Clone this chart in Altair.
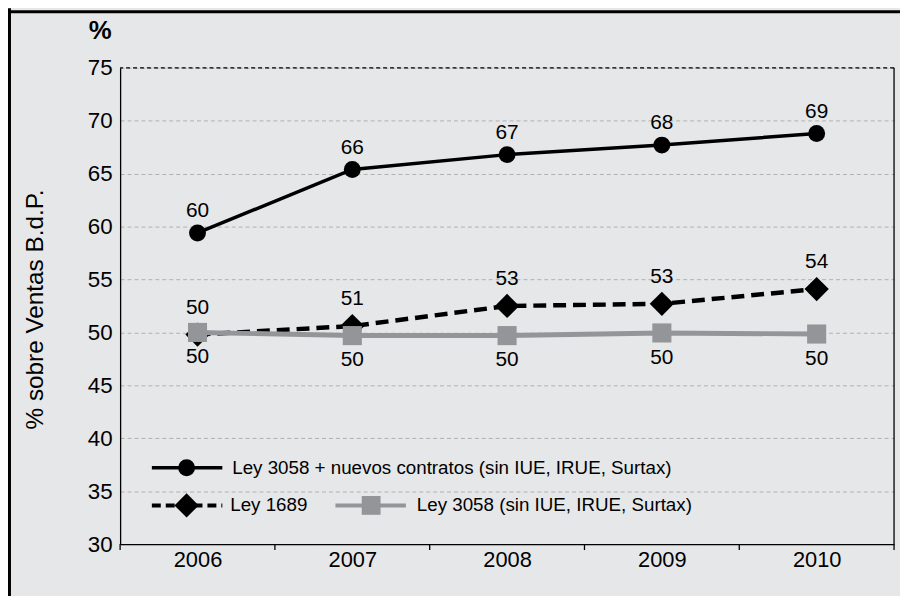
import altair as alt
import pandas as pd

# ---------------- data ----------------
years = [2006, 2007, 2008, 2009, 2010]
series_names = [
    "Ley 3058 + nuevos contratos (sin IUE, IRUE, Surtax)",
    "Ley 1689",
    "Ley 3058 (sin IUE, IRUE, Surtax)",
]
nuevos_vals = [59.4, 65.4, 66.8, 67.7, 68.8]
nuevos_labels = ["60", "66", "67", "68", "69"]
ley1689_vals = [49.8, 50.6, 52.5, 52.7, 54.1]
ley1689_labels = ["50", "51", "53", "53", "54"]
ley3058_vals = [50.0, 49.7, 49.7, 49.95, 49.85]
ley3058_labels = ["50", "50", "50", "50", "50"]
y_ticks = [30, 35, 40, 45, 50, 55, 60, 65, 70, 75]
band_edges = [2005.5, 2006.5, 2007.5, 2008.5, 2009.5, 2010.5]

FONT = "Liberation Sans"
BLACK = "#000000"
GRAY = "#939598"
BG = "#e6e7e8"

W, H = 780, 480

def frame(vals, labels, name):
    return pd.DataFrame({"year": years, "value": vals, "label": labels, "series": name})

df1 = frame(nuevos_vals, nuevos_labels, series_names[0])
df2 = frame(ley1689_vals, ley1689_labels, series_names[1])
df3 = frame(ley3058_vals, ley3058_labels, series_names[2])
df_edges = pd.DataFrame({"edge": band_edges})
df_right = pd.DataFrame({"edge": [band_edges[-1]]})

x_enc = alt.X(
    "year:Q",
    scale=alt.Scale(domain=[band_edges[0], band_edges[-1]], nice=False, zero=False),
    axis=alt.Axis(
        values=years, format="d", title=None, grid=False, ticks=False,
        labelPadding=6, labelFontSize=22, labelColor=BLACK, labelFont=FONT,
        domainColor=BLACK, domainWidth=1.3, labelFlush=False,
    ),
)
y_enc = alt.Y(
    "value:Q",
    scale=alt.Scale(domain=[y_ticks[0], y_ticks[-1]], nice=False, zero=False),
    axis=alt.Axis(
        values=y_ticks, title="% sobre Ventas B.d.P.", titleFontSize=24.5,
        titleFontWeight="normal", titleFont=FONT, titleColor=BLACK,
        titleAngle=270, titleX=-78, titleY=243, titleBaseline="alphabetic",
        titleAlign="center",
        grid=True, gridDash=[4, 3], gridColor="#b0b0b0", gridWidth=1,
        ticks=False, labelPadding=8, labelFontSize=22.5, labelColor=BLACK,
        labelFont=FONT, domainColor=BLACK, domainWidth=1.3,
    ),
)

def xy(df):
    return alt.Chart(df).encode(x=x_enc, y=y_enc)

# top dashed black line at 75
top_line = alt.Chart(pd.DataFrame({"v": [y_ticks[-1]]})).mark_rule(
    color=BLACK, strokeDash=[4, 3], strokeWidth=1.2
).encode(y=alt.Y("v:Q", scale=alt.Scale(domain=[y_ticks[0], y_ticks[-1]], nice=False, zero=False)))

# x ticks at band edges
ticks = alt.Chart(df_edges).mark_rule(color=BLACK, strokeWidth=1.3).encode(
    x=alt.X("edge:Q"), y=alt.value(H), y2=alt.value(H + 6)
)
right_edge = alt.Chart(df_right).mark_rule(color=BLACK, strokeWidth=1.3).encode(
    x=alt.X("edge:Q"), y=alt.value(0), y2=alt.value(H)
)

# series 1
l1 = xy(df1).mark_line(color=BLACK, strokeWidth=3.5)
p1 = xy(df1).mark_point(shape="circle", filled=True, size=290, color=BLACK, opacity=1)
t1 = xy(df1).mark_text(dy=-22, fontSize=21, font=FONT, color=BLACK).encode(text="label:N")
# series 2
l2 = xy(df2).mark_line(color=BLACK, strokeWidth=4.5, strokeDash=[13, 7])
p2 = xy(df2).mark_point(shape="diamond", filled=True, size=600, color=BLACK, opacity=1)
t2 = xy(df2).mark_text(dy=-27, fontSize=21, font=FONT, color=BLACK).encode(text="label:N")
# series 3
l3 = xy(df3).mark_line(color=GRAY, strokeWidth=5)
p3 = xy(df3).mark_point(shape="square", filled=True, size=370, color=GRAY, opacity=1)
t3 = xy(df3).mark_text(dy=25, fontSize=21, font=FONT, color=BLACK).encode(text="label:N")

# legend (drawn inside plot)
def one(name):
    return pd.DataFrame({"name": [name]})

r1y, r2y = 403, 441
LFS = 18.9
leg = [
    alt.Chart(one(series_names[0])).mark_rule(color=BLACK, strokeWidth=3.5).encode(
        x=alt.value(32), x2=alt.value(103), y=alt.value(r1y)),
    alt.Chart(one(series_names[0])).mark_point(shape="circle", filled=True, size=290, color=BLACK, opacity=1).encode(
        x=alt.value(67), y=alt.value(r1y)),
    alt.Chart(one(series_names[0])).mark_text(align="left", baseline="middle", fontSize=LFS, font=FONT, color=BLACK).encode(
        x=alt.value(113), y=alt.value(r1y), text="name:N"),
    alt.Chart(one(series_names[1])).mark_rule(color=BLACK, strokeWidth=4, strokeDash=[9, 5]).encode(
        x=alt.value(32), x2=alt.value(103), y=alt.value(r2y)),
    alt.Chart(one(series_names[1])).mark_point(shape="diamond", filled=True, size=600, color=BLACK, opacity=1).encode(
        x=alt.value(67), y=alt.value(r2y)),
    alt.Chart(one(series_names[1])).mark_text(align="left", baseline="middle", fontSize=LFS, font=FONT, color=BLACK).encode(
        x=alt.value(111), y=alt.value(r2y), text="name:N"),
    alt.Chart(one(series_names[2])).mark_rule(color=GRAY, strokeWidth=4).encode(
        x=alt.value(217), x2=alt.value(288), y=alt.value(r2y)),
    alt.Chart(one(series_names[2])).mark_point(shape="square", filled=True, size=360, color=GRAY, opacity=1).encode(
        x=alt.value(253), y=alt.value(r2y)),
    alt.Chart(one(series_names[2])).mark_text(align="left", baseline="middle", fontSize=LFS, font=FONT, color=BLACK).encode(
        x=alt.value(299), y=alt.value(r2y), text="name:N"),
]

# "%" unit label and outer frame
pct = alt.Chart(pd.DataFrame({"t": ["%"]})).mark_text(
    fontSize=26, fontWeight="bold", font=FONT, color=BLACK, baseline="middle", align="center"
).encode(x=alt.value(-20), y=alt.value(-37), text="t:N")
frame_top = alt.Chart(pd.DataFrame({"t": ["f"]})).mark_rule(color=BLACK, strokeWidth=3).encode(
    x=alt.value(-115), x2=alt.value(800), y=alt.value(-56.5))
frame_left = alt.Chart(pd.DataFrame({"t": ["f"]})).mark_rule(color=BLACK, strokeWidth=3).encode(
    x=alt.value(-111.5), y=alt.value(-60), y2=alt.value(560))

chart = alt.layer(
    top_line, ticks, right_edge,
    l1, p1, t1,
    l2, p2, t2,
    l3, p3, t3,
    *leg,
    pct, frame_top, frame_left,
).properties(
    width=W, height=H,
    autosize=alt.AutoSizeParams(type="none"),
    padding={"left": 113, "top": 58, "right": 6, "bottom": 50},
    background=BG,
).configure_view(stroke=None)

chart.save("out.html", embed_options={"renderer": "svg", "actions": False})
